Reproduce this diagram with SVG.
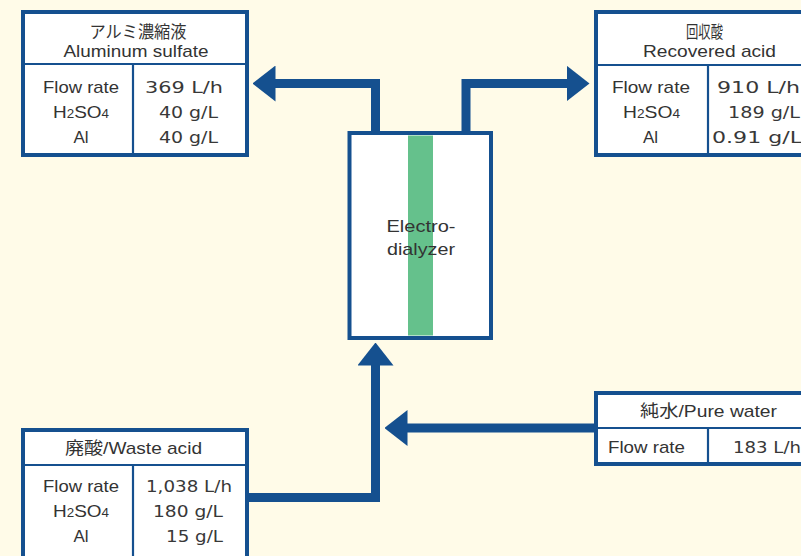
<svg xmlns="http://www.w3.org/2000/svg" width="801" height="556" viewBox="0 0 801 556">
<style>
  .box { fill: #ffffff; stroke: #15508f; stroke-width: 4; }
  .div { stroke: #15508f; stroke-width: 2.2; fill: none; }
  .t { font-family: "Liberation Sans", "Noto Sans CJK JP", sans-serif; font-size: 17px; fill: #333333; text-anchor: middle; }
  .v { font-family: "DejaVu Sans", "Liberation Sans", sans-serif; font-size: 16.5px; fill: #383838; text-anchor: middle; }
  .sub { font-size: 12px; }
  .flow { fill: none; stroke: #15508f; stroke-width: 9; stroke-linejoin: miter; }
</style>
<defs>
  <marker id="head" markerUnits="userSpaceOnUse" markerWidth="23" markerHeight="36" refX="0.5" refY="18" orient="auto">
    <path d="M0,0 L23,18 L0,36 z" fill="#15508f"/>
  </marker>
</defs>
<rect x="0" y="0" width="801" height="556" fill="#fffbe8"/>

<g id="connectors">
  <path class="flow" d="M375.5,134 V83.5 H275" marker-end="url(#head)"/>
  <path class="flow" d="M466,134 V83.5 H567" marker-end="url(#head)"/>
  <path class="flow" d="M247,497.5 H375.5 V365" marker-end="url(#head)"/>
  <path class="flow" d="M595,428 H407" marker-end="url(#head)"/>
</g>

<g id="electrodialyzer">
  <rect class="box" x="349.5" y="133" width="141.5" height="205" stroke-width="4.5"/>
  <rect x="408" y="135.5" width="25" height="200" fill="#65c18c"/>
  <text class="t" x="421" y="232" textLength="69" lengthAdjust="spacingAndGlyphs">Electro-</text>
  <text class="t" x="421" y="255" textLength="68" lengthAdjust="spacingAndGlyphs">dialyzer</text>
</g>

<g id="aluminum-sulfate">
  <rect class="box" x="23" y="12" width="224" height="143"/>
  <line class="div" x1="23" y1="64" x2="247" y2="64"/>
  <line class="div" x1="133" y1="64" x2="133" y2="155"/>
  <text class="t" x="138" y="38" textLength="97" lengthAdjust="spacingAndGlyphs">アルミ濃縮液</text>
  <text class="t" x="136" y="57" textLength="145" lengthAdjust="spacingAndGlyphs">Aluminum sulfate</text>
  <text class="t" x="81" y="93" textLength="76" lengthAdjust="spacingAndGlyphs">Flow rate</text>
  <text class="t" x="81" y="118" textLength="56" lengthAdjust="spacingAndGlyphs">H<tspan class="sub">2</tspan>SO<tspan class="sub">4</tspan></text>
  <text class="t" x="81" y="143">Al</text>
  <text class="v" x="184" y="93" textLength="78" lengthAdjust="spacingAndGlyphs">369 L/h</text>
  <text class="v" x="188.5" y="118" textLength="59" lengthAdjust="spacingAndGlyphs">40 g/L</text>
  <text class="v" x="188.5" y="143" textLength="59" lengthAdjust="spacingAndGlyphs">40 g/L</text>
</g>

<g id="recovered-acid">
  <rect class="box" x="596" y="12" width="224" height="143"/>
  <line class="div" x1="596" y1="65" x2="820" y2="65"/>
  <line class="div" x1="708" y1="65" x2="708" y2="155"/>
  <text class="t" x="704.5" y="38" textLength="37" lengthAdjust="spacingAndGlyphs">回収酸</text>
  <text class="t" x="709.5" y="57" textLength="133" lengthAdjust="spacingAndGlyphs">Recovered acid</text>
  <text class="t" x="651" y="93" textLength="78" lengthAdjust="spacingAndGlyphs">Flow rate</text>
  <text class="t" x="651.5" y="118" textLength="57" lengthAdjust="spacingAndGlyphs">H<tspan class="sub">2</tspan>SO<tspan class="sub">4</tspan></text>
  <text class="t" x="650.5" y="143">Al</text>
  <text class="v" x="758.5" y="93" textLength="83" lengthAdjust="spacingAndGlyphs">910 L/h</text>
  <text class="v" x="764" y="118" textLength="72" lengthAdjust="spacingAndGlyphs">189 g/L</text>
  <text class="v" x="757" y="143" textLength="90" lengthAdjust="spacingAndGlyphs">0.91 g/L</text>
</g>

<g id="pure-water">
  <rect class="box" x="596" y="393" width="224" height="71"/>
  <line class="div" x1="596" y1="428" x2="820" y2="428"/>
  <line class="div" x1="708" y1="428" x2="708" y2="464"/>
  <text class="t" x="708.5" y="417" textLength="137" lengthAdjust="spacingAndGlyphs">純水/Pure water</text>
  <text class="t" x="646.5" y="453" textLength="77" lengthAdjust="spacingAndGlyphs">Flow rate</text>
  <text class="v" x="767" y="453" textLength="68" lengthAdjust="spacingAndGlyphs">183 L/h</text>
</g>

<g id="waste-acid">
  <rect class="box" x="23" y="430" width="224" height="140"/>
  <line class="div" x1="23" y1="465" x2="247" y2="465"/>
  <line class="div" x1="133" y1="465" x2="133" y2="570"/>
  <text class="t" x="133.5" y="454" textLength="137" lengthAdjust="spacingAndGlyphs">廃酸/Waste acid</text>
  <text class="t" x="81" y="492" textLength="76" lengthAdjust="spacingAndGlyphs">Flow rate</text>
  <text class="t" x="81" y="517" textLength="56" lengthAdjust="spacingAndGlyphs">H<tspan class="sub">2</tspan>SO<tspan class="sub">4</tspan></text>
  <text class="t" x="81" y="542">Al</text>
  <text class="v" x="189" y="492" textLength="86" lengthAdjust="spacingAndGlyphs">1,038 L/h</text>
  <text class="v" x="188" y="517" textLength="70" lengthAdjust="spacingAndGlyphs">180 g/L</text>
  <text class="v" x="194.5" y="542" textLength="57" lengthAdjust="spacingAndGlyphs">15 g/L</text>
</g>
</svg>
